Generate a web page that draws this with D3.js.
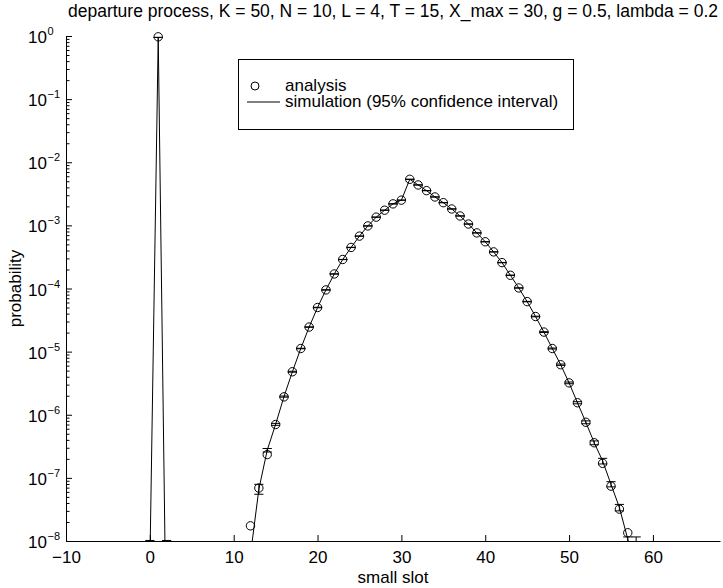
<!DOCTYPE html>
<html>
<head>
<meta charset="utf-8">
<script src="https://cdn.jsdelivr.net/npm/d3@7"></script>
<style>
body { margin: 0; background: #fff; }
svg { display: block; font-family: "Liberation Sans", Arial, sans-serif; }
.line { fill: none; stroke: #000; stroke-width: 1; }
.axis path, .axis line { stroke: #000; stroke-width: 1; }
.axis text { font-size: 17px; fill: #000; }
</style>
</head>
<body>
<svg id="chart" width="723" height="588"></svg>
<script>
// analysis (markers)
var analysisSlots = [1, 12, 13, 14, 15, 16, 17, 18, 19, 20, 21, 22, 23, 24, 25, 26, 27, 28, 29, 30,
    31, 32, 33, 34, 35, 36, 37, 38, 39, 40, 41, 42, 43, 44, 45, 46, 47, 48, 49, 50, 51, 52, 53, 54, 55, 56, 57];
var analysisProb = [0.97, 1.74e-8, 6.9e-8, 2.34e-7, 7.0e-7, 1.92e-6, 4.8e-6, 1.12e-5, 2.45e-5, 5.0e-5,
    9.5e-5, 1.70e-4, 2.88e-4, 4.47e-4, 6.76e-4, 9.8e-4, 1.35e-3, 1.74e-3, 2.19e-3, 2.51e-3,
    5.37e-3, 4.37e-3, 3.55e-3, 2.82e-3, 2.29e-3, 1.82e-3, 1.41e-3, 1.05e-3, 7.6e-4, 5.5e-4,
    3.8e-4, 2.57e-4, 1.62e-4, 1.02e-4, 6.2e-5, 3.6e-5, 2.04e-5, 1.12e-5, 6.2e-6, 3.2e-6,
    1.55e-6, 7.6e-7, 3.6e-7, 1.70e-7, 7.4e-8, 3.2e-8, 1.35e-8];

// simulation (line + 95% confidence interval), slots 0..58, zero = not observed
var simSlots = d3.range(0, 59);
var simProb = [4e-9, 0.95, 1e-10, 0, 0, 0, 0, 0, 0, 0, 0, 0,
    6.0e-9, 6.6e-8, 2.75e-7, 7.05e-7, 1.94e-6, 4.8e-6, 1.12e-5, 2.45e-5, 5.0e-5, 9.5e-5,
    1.70e-4, 2.88e-4, 4.47e-4, 6.76e-4, 9.8e-4, 1.35e-3, 1.74e-3, 2.19e-3, 2.51e-3, 5.37e-3,
    4.37e-3, 3.55e-3, 2.82e-3, 2.29e-3, 1.82e-3, 1.41e-3, 1.05e-3, 7.6e-4, 5.5e-4, 3.8e-4,
    2.57e-4, 1.62e-4, 1.02e-4, 6.2e-5, 3.6e-5, 2.04e-5, 1.12e-5, 6.2e-6, 3.2e-6, 1.55e-6,
    7.6e-7, 3.6e-7, 1.86e-7, 7.9e-8, 3.4e-8, 1.07e-8, 2.5e-9];
var simLo = [1e-9, 0.948, 1e-11, 0, 0, 0, 0, 0, 0, 0, 0, 0,
    3e-9, 5.5e-8, 2.57e-7, 6.8e-7, 1.90e-6, 4.72e-6, 1.11e-5, 2.43e-5, 4.96e-5, 9.43e-5,
    1.69e-4, 2.87e-4, 4.45e-4, 6.73e-4, 9.76e-4, 1.345e-3, 1.733e-3, 2.18e-3, 2.50e-3, 5.35e-3,
    4.35e-3, 3.535e-3, 2.81e-3, 2.28e-3, 1.81e-3, 1.405e-3, 1.045e-3, 7.56e-4, 5.47e-4, 3.78e-4,
    2.555e-4, 1.61e-4, 1.013e-4, 6.15e-5, 3.56e-5, 2.01e-5, 1.10e-5, 6.05e-6, 3.1e-6, 1.49e-6,
    7.2e-7, 3.35e-7, 1.66e-7, 7.2e-8, 3.0e-8, 8e-9, 3e-10];
var simHi = [1.02e-8, 0.952, 1.02e-8, 0, 0, 0, 0, 0, 0, 0, 0, 0,
    9e-9, 7.9e-8, 2.92e-7, 7.3e-7, 1.98e-6, 4.88e-6, 1.13e-5, 2.47e-5, 5.04e-5, 9.57e-5,
    1.71e-4, 2.89e-4, 4.49e-4, 6.79e-4, 9.84e-4, 1.355e-3, 1.747e-3, 2.20e-3, 2.52e-3, 5.39e-3,
    4.39e-3, 3.565e-3, 2.83e-3, 2.30e-3, 1.83e-3, 1.415e-3, 1.055e-3, 7.64e-4, 5.53e-4, 3.82e-4,
    2.585e-4, 1.63e-4, 1.027e-4, 6.25e-5, 3.64e-5, 2.07e-5, 1.14e-5, 6.35e-6, 3.3e-6, 1.61e-6,
    8.0e-7, 3.85e-7, 2.04e-7, 8.7e-8, 3.8e-8, 1.16e-8, 1.16e-8];

var xTicks = [-10, 0, 10, 20, 30, 40, 50, 60];
var yExponents = [0, -1, -2, -3, -4, -5, -6, -7, -8];

var titleText = "departure process, K = 50, N = 10, L = 4, T = 15, X_max = 30, g = 0.5, lambda = 0.2";

var svg = d3.select("#chart");
var plotLeft = 66, plotRight = 720, plotTop = 36, plotBottom = 541;

var x = d3.scaleLinear().domain([-10, 68]).range([plotLeft, plotRight]);
var y = d3.scaleLog().domain([1e-8, 1]).range([plotBottom, plotTop]);

svg.append("clipPath").attr("id", "plotclip")
  .append("rect").attr("x", plotLeft).attr("y", 0)
  .attr("width", plotRight - plotLeft).attr("height", plotBottom);

var sim = simSlots.map(function(s, i) {
  return {x: s, p: simProb[i], lo: simLo[i], hi: simHi[i]};
});
var ana = analysisSlots.map(function(s, i) { return {x: s, p: analysisProb[i]}; });

var plot = svg.append("g").attr("clip-path", "url(#plotclip)");

var simLine = d3.line()
  .defined(function(d) { return d.p > 0; })
  .x(function(d) { return x(d.x); })
  .y(function(d) { return y(d.p); });

plot.append("path").attr("class", "line").attr("d", simLine(sim));

// error bars
var capW = 0.55;
var eb = plot.selectAll(".eb").data(sim.filter(function(d) { return d.p > 0; }))
  .enter().append("g").attr("class", "eb")
  .attr("stroke", "#000").attr("stroke-width", 1);
eb.append("line")
  .attr("x1", function(d) { return x(d.x); }).attr("x2", function(d) { return x(d.x); })
  .attr("y1", function(d) { return y(d.lo); }).attr("y2", function(d) { return y(d.hi); });
eb.append("line")
  .attr("x1", function(d) { return x(d.x - capW); }).attr("x2", function(d) { return x(d.x + capW); })
  .attr("y1", function(d) { return y(d.lo); }).attr("y2", function(d) { return y(d.lo); });
eb.append("line")
  .attr("x1", function(d) { return x(d.x - capW); }).attr("x2", function(d) { return x(d.x + capW); })
  .attr("y1", function(d) { return y(d.hi); }).attr("y2", function(d) { return y(d.hi); });

// analysis markers
svg.selectAll(".mk").data(ana).enter().append("circle")
  .attr("class", "mk")
  .attr("cx", function(d) { return x(d.x); })
  .attr("cy", function(d) { return y(d.p); })
  .attr("r", 4.2)
  .attr("fill", "none").attr("stroke", "#000").attr("stroke-width", 1);

// axes
var yMajor = yExponents.map(function(e) { return Math.pow(10, e); });
var yMinor = [];
yExponents.slice(1).forEach(function(e) {
  for (var m = 2; m <= 9; m++) yMinor.push(m * Math.pow(10, e));
});

svg.append("g").attr("class", "axis")
  .attr("transform", "translate(" + plotLeft + ",0)")
  .call(d3.axisLeft(y).tickValues(yMinor).tickSizeInner(-3.5).tickSizeOuter(0).tickFormat(""));
svg.append("g").attr("class", "axis")
  .attr("transform", "translate(" + plotLeft + ",0)")
  .call(d3.axisLeft(y).tickValues(yMajor).tickSizeInner(-6).tickSizeOuter(0).tickFormat(""));

svg.append("g").attr("class", "axis")
  .attr("transform", "translate(0," + plotBottom + ")")
  .call(d3.axisBottom(x).tickValues(xTicks).tickSizeInner(-6).tickSizeOuter(0).tickPadding(10));

// y tick labels with superscript exponents
var yl = svg.append("g").attr("fill", "#000");
yExponents.forEach(function(e) {
  var ty = y(Math.pow(10, e));
  yl.append("text").attr("x", 47).attr("y", ty + 7)
    .attr("text-anchor", "end").style("font-size", "17px").text("10");
  yl.append("text").attr("x", 47.5).attr("y", ty - 1)
    .attr("text-anchor", "start").style("font-size", "11px")
    .text(e === 0 ? "0" : "\u2212" + (-e));
});

// labels
svg.append("text")
  .attr("x", (plotLeft + plotRight) / 2).attr("y", 16.5)
  .attr("text-anchor", "middle").style("font-size", "17.5px")
  .text(titleText);

svg.append("text")
  .attr("x", (plotLeft + plotRight) / 2).attr("y", 583)
  .attr("text-anchor", "middle").style("font-size", "17px")
  .text("small slot");

svg.append("text")
  .attr("transform", "translate(21," + ((plotTop + plotBottom) / 2) + ") rotate(-90)")
  .attr("text-anchor", "middle").style("font-size", "17px")
  .text("probability");

// legend
var lg = svg.append("g");
lg.append("rect").attr("x", 238.5).attr("y", 59.5).attr("width", 335).attr("height", 70)
  .attr("fill", "#fff").attr("stroke", "#000").attr("stroke-width", 1);
lg.append("circle").attr("cx", 255).attr("cy", 86).attr("r", 4)
  .attr("fill", "none").attr("stroke", "#000").attr("stroke-width", 1);
lg.append("line").attr("x1", 247).attr("x2", 280).attr("y1", 102).attr("y2", 102)
  .attr("stroke", "#000").attr("stroke-width", 1);
lg.append("text").attr("x", 285).attr("y", 91).style("font-size", "17px").text("analysis");
lg.append("text").attr("x", 285).attr("y", 107).style("font-size", "17px")
  .text("simulation (95% confidence interval)");
</script>
</body>
</html>
